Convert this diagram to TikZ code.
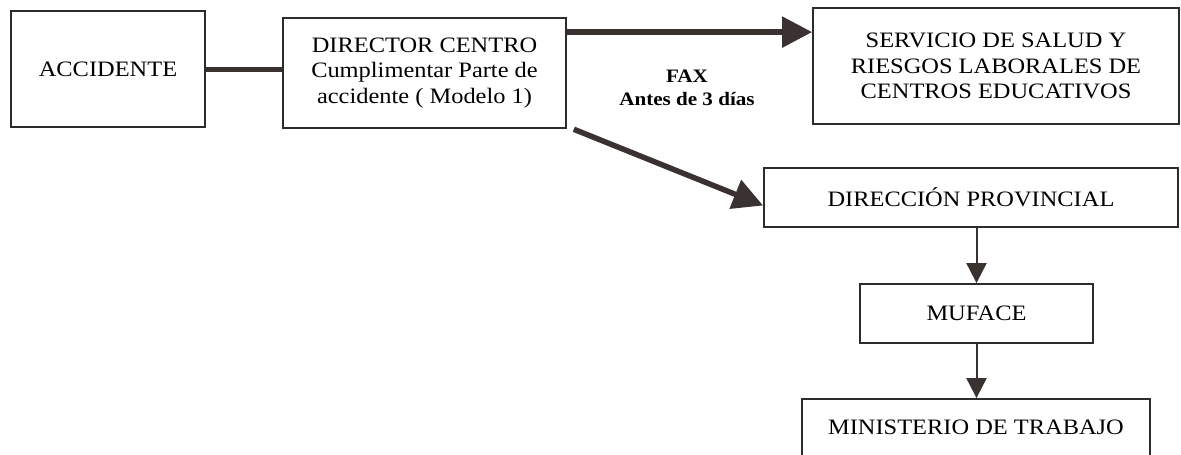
\documentclass[tikz,border=0pt]{standalone}
\usepackage{fontspec}
\setmainfont{Liberation Serif}[FakeStretch=1.11]
\usetikzlibrary{arrows.meta,calc}
\definecolor{inkline}{HTML}{3A3131}
\definecolor{boxline}{HTML}{2C2C2C}
\tikzset{
  box/.style={draw=boxline,line width=1.8pt,inner sep=0pt,align=center,
    font=\fontsize{22}{25.5}\selectfont,text=black},
  thickarrow/.style={draw=inkline,line width=5.5pt,-{Triangle[length=30pt,width=30pt]}},
  thickline/.style={draw=inkline,line width=5pt},
  thinarrow/.style={draw=inkline,line width=2pt,-{Triangle[length=20pt,width=20pt]}},
  lbl/.style={font=\bfseries\fontsize{19}{23}\selectfont,align=center,text=black}
}
\begin{document}
\begin{tikzpicture}[x=1pt,y=-1pt]
\clip (0,0) rectangle (1181,455);
\fill[white] (0,0) rectangle (1181,455);
\node[box,minimum width=194pt,minimum height=116pt] (acc) at (108,69) {ACCIDENTE};
\node[box,minimum width=283pt,minimum height=110pt] (dir) at (424.5,73)
  {DIRECTOR CENTRO\\Cumplimentar Parte de\\accidente ( Modelo 1)};
\node[box,minimum width=366pt,minimum height=116pt] (srv) at (996,66)
  {SERVICIO DE SALUD Y\\RIESGOS LABORALES DE\\CENTROS EDUCATIVOS};
\node[box,minimum width=414pt,minimum height=59pt] (dp) at (971,197.5) {DIRECCIÓN PROVINCIAL};
\node[box,minimum width=233pt,minimum height=59pt] (muf) at (976.5,313.5) {MUFACE};
\node[box,minimum width=348pt,minimum height=62pt,text depth=0pt] (min) at (976,430) {\raisebox{6pt}{MINISTERIO DE TRABAJO}};
\node[lbl] (fax) at (687,88) {FAX\\Antes de 3 días};
\draw[thickline] (acc.east) -- (dir.west |- acc.east);
\coordinate (dtop) at ($(dir.north east)+(0,15)$);
\draw[thickarrow] (dtop) -- (srv.west |- dtop);
\draw[thickarrow,shorten <=1pt] ($(dir.south east)+(6,0)$) -- ($(dp.west)+(0,8)$);
\draw[thinarrow] (muf.north |- dp.south) -- (muf.north);
\draw[thinarrow] (muf.south) -- (min.north -| muf.south);
\end{tikzpicture}
\end{document}
